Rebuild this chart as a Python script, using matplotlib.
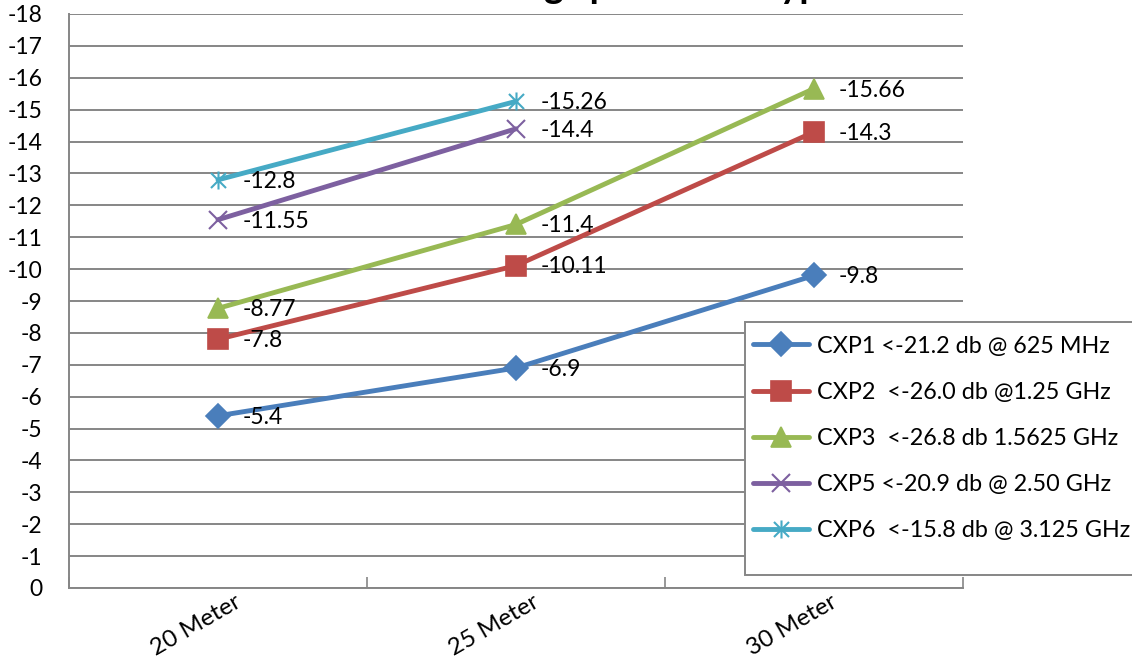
import matplotlib
matplotlib.use("Agg")
import matplotlib.pyplot as plt
import numpy as np
from matplotlib.path import Path
from matplotlib.patches import Rectangle
import matplotlib.transforms as mtrans

plt.rcParams['font.family'] = ['Lato', 'DejaVu Sans']
plt.rcParams['axes.unicode_minus'] = False

categories = ["20 Meter", "25 Meter", "30 Meter"]
series_names = [
    "CXP1 <-21.2 db @ 625 MHz",
    "CXP2  <-26.0 db @1.25 GHz",
    "CXP3  <-26.8 db 1.5625 GHz",
    "CXP5 <-20.9 db @ 2.50 GHz",
    "CXP6  <-15.8 db @ 3.125 GHz",
]
cxp1 = [-5.4, -6.9, -9.8]
cxp2 = [-7.8, -10.11, -14.3]
cxp3 = [-8.77, -11.4, -15.66]
cxp5 = [-11.55, -14.4, np.nan]
cxp6 = [-12.8, -15.26, np.nan]
series_values = [cxp1, cxp2, cxp3, cxp5, cxp6]
yticks = list(range(0, -19, -1))
title = "Return Loss Readings per Cable Type"

colors = ["#4A7EBB", "#BE4B48", "#98B954", "#7D60A0", "#46AAC5"]
star = Path([(-1, -1), (1, 1), (-1, 1), (1, -1), (0, -1.2), (0, 1.2)],
            [Path.MOVETO, Path.LINETO, Path.MOVETO, Path.LINETO, Path.MOVETO, Path.LINETO])
markers = ["D", "s", "^", "x", star]
msizes = [12, 14, 15, 13, 13]

W, H = 1132, 666
fig = plt.figure(figsize=(W / 100, H / 100), dpi=100)
ax = fig.add_axes([69 / W, 1 - 588 / H, (963 - 69) / W, (588 - 14) / H])

x = np.arange(len(categories))
handles = []
for vals, name, c, m, ms in zip(series_values, series_names, colors, markers, msizes):
    filled = m not in ("x",) and not isinstance(m, Path)
    h, = ax.plot(x, vals, color=c, lw=3.5, marker=m, markersize=ms,
                 markerfacecolor=c if filled else "none", markeredgecolor=c,
                 markeredgewidth=1.2 if filled else 1.5, label=name, zorder=3,
                 solid_capstyle='round')
    handles.append(h)
    for xi, v in zip(x, vals):
        if np.isnan(v):
            continue
        ax.annotate(f"{v:g}", (xi, v), xytext=(18, -1), textcoords="offset points",
                    ha="left", va="center", fontsize=16.5, color="black", zorder=4)

ax.set_xlim(-0.5, len(categories) - 0.5)
ax.set_ylim(0, -18)
ax.set_yticks(yticks)
ax.set_yticklabels([f"{t}" for t in yticks])
ax.tick_params(axis="y", length=0, pad=19, labelsize=16.5)
ax.set_xticks(x)
ax.set_xticklabels(categories, rotation=30, ha="center", fontsize=17.5)
ax.tick_params(axis="x", length=0, pad=2)
ax.set_xticks(np.arange(-0.5, len(categories), 1), minor=True)
ax.tick_params(axis="x", which="minor", direction="in", length=8, width=1.2, color="#868686")
ax.grid(axis="y", color="#868686", lw=1.4)
ax.set_axisbelow(True)
for s in ["top", "right"]:
    ax.spines[s].set_visible(False)
for s in ["left", "bottom"]:
    ax.spines[s].set_color("#868686")
    ax.spines[s].set_linewidth(1.4)

offset = mtrans.ScaledTranslation(-22 / 100, 0, fig.dpi_scale_trans)
for lab in ax.get_xticklabels():
    lab.set_transform(lab.get_transform() + offset)

fig.text(532 / W, 1.0 + 2.5 / H, title, ha="center", va="baseline", fontsize=27,
         fontweight="bold")

fig.patches.append(Rectangle((745 / W, 1 - 575 / H), (W + 10 - 745) / W, (575 - 322) / H,
                             transform=fig.transFigure, facecolor="white",
                             edgecolor="#868686", lw=1.4, zorder=5))
leg = fig.legend(handles=handles, loc="upper left", bbox_to_anchor=(748 / W, 1 - 331 / H),
                 frameon=False, fontsize=16.8, handlelength=2.4, handletextpad=0.35,
                 labelspacing=1.08, borderpad=0.2, borderaxespad=0)
leg.set_zorder(6)

fig.savefig("out.png", dpi=100)
